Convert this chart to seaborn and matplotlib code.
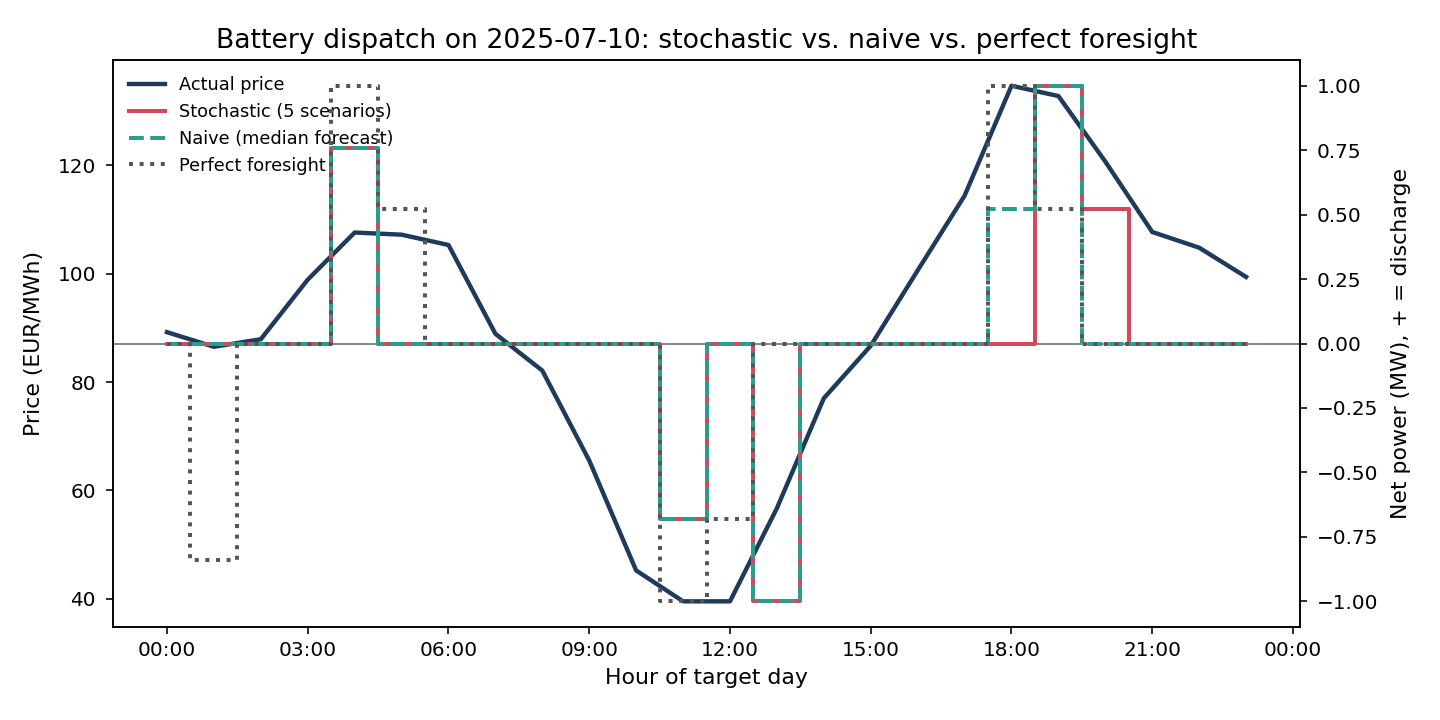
import numpy as np
import pandas as pd
import matplotlib
matplotlib.use("Agg")
import matplotlib.pyplot as plt
import matplotlib.dates as mdates
import seaborn as sns

# ---- data ----
hours = list(range(24))
price = [89.2, 86.5, 87.9, 98.9, 107.6, 107.2, 105.3, 88.9, 82.1, 65.5, 45.2, 39.5,
         39.5, 56.7, 77.0, 86.7, 100.6, 114.4, 134.7, 132.8, 120.7, 107.7, 104.8, 99.4]
stochastic = [0, 0, 0, 0, 0.76, 0, 0, 0, 0, 0, 0, -0.68,
              0, -1.0, 0, 0, 0, 0, 0, 1.0, 0.52, 0, 0, 0]
naive = [0, 0, 0, 0, 0.76, 0, 0, 0, 0, 0, 0, -0.68,
         0, -1.0, 0, 0, 0, 0, 0.52, 1.0, 0, 0, 0, 0]
perfect = [0, -0.84, 0, 0, 1.0, 0.52, 0, 0, 0, 0, 0, -1.0,
           -0.68, 0, 0, 0, 0, 0, 1.0, 0.52, 0, 0, 0, 0]

times = pd.date_range("2025-07-10 00:00", periods=len(hours), freq="h")
df = pd.DataFrame({"time": times, "price": price, "stochastic": stochastic,
                   "naive": naive, "perfect": perfect})

plt.rcParams["font.family"] = ["DejaVu Sans"]

fig, ax = plt.subplots(figsize=(10, 5), dpi=144)
fig.subplots_adjust(left=0.0785, right=0.9028, top=0.9167, bottom=0.129)

c_price = "#1f3a5a"
c_stoch = "#d1495b"
c_naive = "#2a9d8f"
c_pf = "#555555"

sns.lineplot(data=df, x="time", y="price", ax=ax, color=c_price, lw=2.2,
             label="Actual price", legend=False)
ax.set_ylabel("Price (EUR/MWh)", fontsize=11, labelpad=7)
ax.set_xlabel("Hour of target day", fontsize=11)
ax.tick_params(axis="y", pad=5)

ax2 = ax.twinx()
ax2.axhline(0, color="#888888", lw=1)
sns.lineplot(data=df, x="time", y="stochastic", ax=ax2, color=c_stoch, lw=2,
             drawstyle="steps-mid", label="Stochastic (5 scenarios)", legend=False)
sns.lineplot(data=df, x="time", y="naive", ax=ax2, color=c_naive, lw=2,
             linestyle="--", drawstyle="steps-mid", label="Naive (median forecast)", legend=False)
sns.lineplot(data=df, x="time", y="perfect", ax=ax2, color=c_pf, lw=2,
             linestyle=":", drawstyle="steps-mid", label="Perfect foresight", legend=False)
ax2.set_ylabel("Net power (MW), + = discharge", fontsize=11, labelpad=6)
ax2.tick_params(axis="y", pad=5)

ax.xaxis.set_major_locator(mdates.HourLocator(byhour=range(0, 24, 3)))
ax.xaxis.set_major_formatter(mdates.DateFormatter("%H:%M"))

h1, l1 = ax.get_legend_handles_labels()
h2, l2 = ax2.get_legend_handles_labels()
ax.legend(h1 + h2, l1 + l2, loc="upper left", frameon=False, fontsize=8.9)

ax.set_title("Battery dispatch on 2025-07-10: stochastic vs. naive vs. perfect foresight",
             fontsize=13.3)

fig.savefig("out.png", dpi=144)
